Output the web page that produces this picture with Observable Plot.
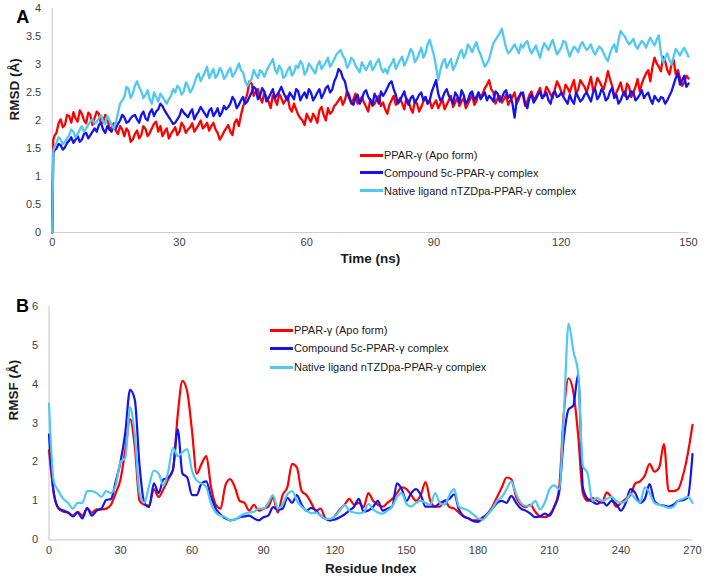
<!DOCTYPE html>
<html><head><meta charset="utf-8">
<script src="https://cdn.jsdelivr.net/npm/d3@7"></script>
<script src="https://cdn.jsdelivr.net/npm/@observablehq/plot@0.6"></script>
<style>
body{margin:0;background:#fff;}
#wrap{position:relative;width:708px;height:578px;font-family:"Liberation Sans",Arial,sans-serif;overflow:hidden;}
.panel{position:absolute;left:0;}
.legend{position:absolute;font-size:11px;color:#1a1a1a;font-family:"Liberation Sans",Arial,sans-serif;}
.legend .item{position:absolute;left:0;white-space:nowrap;display:flex;align-items:center;height:14px;}
.legend .sw{display:inline-block;width:23px;height:3px;margin-right:1px;}
</style></head>
<body><div id="wrap"></div>
<script>
// ---------- Series names & colours ----------
const seriesNames = ["PPAR-γ (Apo form)", "Compound 5c-PPAR-γ complex", "Native ligand nTZDpa-PPAR-γ complex"];
const seriesColors = ["#ff0000", "#1414f0", "#4fc8f4"];

// ---------- Panel A: RMSD vs time (0.5 ns sampling) ----------
const timeNs = [0, 0.25, ...d3.range(1, 301).map(i => i / 2)];
const apoRMSD = [0, 1.65,
 1.72, 1.78, 1.95, 2.02, 1.88, 1.92, 2.1, 2.08, 1.96, 2.15,
 2.04, 1.98, 2.18, 2.12, 2.0, 1.95, 2.14, 2.1, 1.92, 2.05,
 2.16, 2.12, 1.94, 1.98, 2.1, 2.06, 1.84, 1.88, 1.95, 1.82,
 1.76, 1.9, 1.84, 1.72, 1.86, 1.8, 1.62, 1.66, 1.76, 1.82,
 1.68, 1.74, 1.9, 1.85, 1.72, 1.78, 1.86, 1.94, 1.98, 1.8,
 1.9, 1.72, 1.8, 1.86, 1.68, 1.76, 1.82, 1.88, 1.74, 1.8,
 1.96, 1.9, 1.78, 1.84, 1.88, 1.95, 1.8, 1.86, 1.92, 2.0,
 1.86, 1.9, 1.96, 1.82, 1.9, 1.96, 1.84, 1.78, 1.66, 1.72,
 1.8, 1.86, 1.92, 1.8, 1.74, 1.96, 2.02, 1.9, 2.1, 2.25,
 2.36, 2.48, 2.7, 2.66, 2.44, 2.52, 2.56, 2.4, 2.32, 2.5,
 2.42, 2.34, 2.22, 2.45, 2.38, 2.28, 2.48, 2.4, 2.3, 2.36,
 2.44, 2.22, 2.16, 2.3, 2.2, 2.1, 2.04, 2.0, 1.92, 2.12,
 2.04, 1.98, 2.12, 2.06, 1.96, 2.18, 2.24, 2.1, 2.0, 2.22,
 2.12, 2.16, 2.26, 2.3, 2.36, 2.42, 2.28, 2.36, 2.52, 2.46,
 2.3, 2.38, 2.48, 2.3, 2.36, 2.42, 2.32, 2.24, 2.16, 2.38,
 2.26, 2.3, 2.38, 2.44, 2.26, 2.32, 2.2, 2.12, 2.28, 2.36,
 2.44, 2.28, 2.32, 2.4, 2.3, 2.2, 2.4, 2.34, 2.22, 2.14,
 2.36, 2.3, 2.16, 2.24, 2.34, 2.42, 2.3, 2.36, 2.22, 2.3,
 2.36, 2.22, 2.3, 2.38, 2.2, 2.28, 2.36, 2.44, 2.24, 2.32,
 2.4, 2.26, 2.34, 2.4, 2.22, 2.3, 2.38, 2.46, 2.28, 2.34,
 2.5, 2.42, 2.48, 2.58, 2.64, 2.72, 2.56, 2.5, 2.3, 2.4,
 2.44, 2.32, 2.38, 2.46, 2.28, 2.36, 2.42, 2.5, 2.3, 2.38,
 2.5, 2.44, 2.26, 2.34, 2.46, 2.52, 2.36, 2.42, 2.5, 2.58,
 2.4, 2.46, 2.6, 2.54, 2.46, 2.4, 2.56, 2.7, 2.62, 2.52,
 2.44, 2.64, 2.58, 2.5, 2.62, 2.72, 2.48, 2.56, 2.72, 2.66,
 2.6, 2.5, 2.64, 2.78, 2.54, 2.6, 2.76, 2.7, 2.62, 2.56,
 2.7, 2.88, 2.74, 2.62, 2.44, 2.5, 2.58, 2.68, 2.52, 2.44,
 2.66, 2.6, 2.42, 2.5, 2.6, 2.74, 2.52, 2.66, 2.76, 2.84,
 2.9, 2.7, 2.96, 3.12, 3.02, 2.96, 2.88, 3.14, 3.06, 2.9,
 2.82, 3.0, 3.08, 2.82, 2.9, 2.76, 2.62, 2.68, 2.8, 2.75];
const cpd5cRMSD = [0, 1.42,
 1.46, 1.5, 1.58, 1.56, 1.48, 1.52, 1.6, 1.64, 1.7, 1.6,
 1.66, 1.72, 1.62, 1.66, 1.76, 1.78, 1.68, 1.74, 1.8, 1.86,
 1.8, 1.92, 1.96, 1.84, 1.78, 1.9, 1.84, 1.8, 1.9, 1.86,
 1.94, 2.0, 2.1, 2.06, 1.96, 1.98, 2.04, 2.08, 2.1, 2.02,
 1.96, 2.1, 2.16, 2.04, 2.0, 2.14, 2.2, 2.08, 2.16, 2.2,
 2.3, 2.26, 2.18, 2.12, 2.06, 2.0, 1.94, 1.96, 2.02, 2.08,
 2.2, 2.14, 2.1, 2.06, 2.14, 2.2, 2.02, 2.1, 2.16, 2.24,
 2.18, 2.12, 2.06, 2.18, 2.22, 2.08, 2.14, 2.22, 2.08, 2.14,
 2.26, 2.2, 2.24, 2.3, 2.42, 2.36, 2.22, 2.28, 2.36, 2.42,
 2.3, 2.34, 2.42, 2.5, 2.6, 2.56, 2.38, 2.44, 2.58, 2.52,
 2.34, 2.4, 2.48, 2.56, 2.4, 2.46, 2.52, 2.6, 2.5, 2.42,
 2.36, 2.5, 2.44, 2.38, 2.56, 2.52, 2.36, 2.44, 2.5, 2.4,
 2.56, 2.5, 2.36, 2.42, 2.5, 2.56, 2.4, 2.48, 2.58, 2.62,
 2.5, 2.55, 2.7, 2.78, 2.92, 2.88, 2.76, 2.7, 2.52, 2.4,
 2.32, 2.28, 2.4, 2.46, 2.3, 2.38, 2.5, 2.54, 2.42, 2.36,
 2.28, 2.48, 2.4, 2.3, 2.52, 2.44, 2.5, 2.58, 2.66, 2.7,
 2.56, 2.46, 2.3, 2.36, 2.44, 2.52, 2.36, 2.28, 2.4, 2.44,
 2.32, 2.38, 2.46, 2.5, 2.36, 2.42, 2.3, 2.36, 2.52, 2.62,
 2.72, 2.48, 2.36, 2.4, 2.5, 2.56, 2.44, 2.38, 2.3, 2.5,
 2.44, 2.32, 2.54, 2.46, 2.3, 2.36, 2.48, 2.52, 2.36, 2.42,
 2.5, 2.38, 2.44, 2.5, 2.36, 2.44, 2.4, 2.34, 2.52, 2.48,
 2.34, 2.4, 2.5, 2.54, 2.4, 2.46, 2.3, 2.05, 2.36, 2.42,
 2.48, 2.5, 2.3, 2.22, 2.4, 2.46, 2.32, 2.38, 2.46, 2.52,
 2.4, 2.44, 2.5, 2.36, 2.3, 2.48, 2.52, 2.42, 2.44, 2.5,
 2.42, 2.36, 2.3, 2.46, 2.36, 2.3, 2.5, 2.42, 2.34, 2.38,
 2.46, 2.5, 2.42, 2.34, 2.5, 2.56, 2.38, 2.44, 2.56, 2.5,
 2.36, 2.4, 2.52, 2.58, 2.4, 2.46, 2.3, 2.36, 2.46, 2.52,
 2.38, 2.44, 2.52, 2.5, 2.36, 2.4, 2.46, 2.54, 2.4, 2.46,
 2.5, 2.38, 2.3, 2.44, 2.38, 2.34, 2.42, 2.4, 2.3, 2.36,
 2.44, 2.52, 2.64, 2.76, 2.84, 2.64, 2.72, 2.8, 2.6, 2.66];
const nativeRMSD = [0, 1.45,
 1.52, 1.6, 1.7, 1.66, 1.58, 1.62, 1.68, 1.74, 1.84, 1.8,
 1.7, 1.76, 1.84, 1.9, 1.8, 1.86, 1.92, 1.98, 2.02, 1.94,
 1.98, 2.04, 2.1, 1.98, 1.94, 2.08, 2.0, 1.92, 1.86, 1.96,
 2.14, 2.3, 2.36, 2.42, 2.6, 2.56, 2.4, 2.48, 2.62, 2.7,
 2.6, 2.52, 2.4, 2.46, 2.54, 2.38, 2.3, 2.5, 2.42, 2.34,
 2.48, 2.42, 2.36, 2.3, 2.38, 2.44, 2.56, 2.5, 2.62, 2.58,
 2.46, 2.52, 2.68, 2.62, 2.5, 2.56, 2.66, 2.78, 2.84, 2.7,
 2.78, 2.86, 2.96, 2.76, 2.84, 2.92, 2.76, 2.82, 2.94, 2.88,
 2.74, 2.8, 2.88, 2.94, 2.78, 2.84, 2.92, 3.02, 2.9, 2.86,
 2.7, 2.62, 2.68, 2.74, 2.9, 2.82, 2.76, 2.9, 2.86, 2.78,
 2.88, 2.96, 3.02, 3.1, 2.92, 2.84, 2.98, 2.92, 2.76, 2.8,
 2.9, 2.96, 2.8, 2.86, 2.98, 2.94, 3.06, 3.0, 2.82, 2.88,
 3.02, 2.96, 2.9, 2.84, 2.98, 3.06, 2.92, 2.98, 3.04, 3.12,
 2.96, 3.02, 3.1, 3.18, 3.22, 3.26, 3.16, 3.1, 2.94, 3.0,
 3.12, 3.08, 2.98, 2.92, 2.86, 3.04, 2.96, 2.9, 2.98, 3.06,
 2.9, 2.96, 3.04, 3.1, 2.94, 2.86, 2.92, 2.84, 2.96, 3.02,
 3.1, 2.92, 3.0, 3.08, 3.14, 2.98, 3.06, 3.16, 3.28, 3.22,
 3.04, 3.1, 3.2, 3.3, 3.12, 3.2, 3.36, 3.44, 3.3, 3.16,
 2.96, 2.72, 2.9, 3.04, 3.1, 2.94, 3.02, 3.1, 2.9, 2.98,
 3.08, 3.2, 3.26, 3.12, 3.2, 3.36, 3.3, 3.22, 3.32, 3.4,
 3.26, 3.18, 3.06, 2.96, 3.02, 3.1, 3.24, 3.38, 3.44, 3.5,
 3.56, 3.64, 3.46, 3.3, 3.2, 3.24, 3.3, 3.36, 3.28, 3.2,
 3.36, 3.3, 3.38, 3.42, 3.28, 3.2, 3.26, 3.34, 3.22, 3.12,
 3.28, 3.38, 3.32, 3.26, 3.36, 3.44, 3.3, 3.18, 3.24, 3.3,
 3.42, 3.4, 3.26, 3.14, 3.24, 3.32, 3.28, 3.22, 3.34, 3.4,
 3.32, 3.26, 3.3, 3.36, 3.24, 3.18, 3.26, 3.32, 3.28, 3.2,
 3.12, 3.06, 3.2, 3.3, 3.36, 3.22, 3.44, 3.6, 3.54, 3.5,
 3.42, 3.36, 3.4, 3.46, 3.34, 3.28, 3.36, 3.42, 3.38, 3.3,
 3.4, 3.48, 3.4, 3.34, 3.44, 3.52, 3.2, 3.04, 3.12, 3.2,
 3.08, 3.0, 3.14, 3.28, 3.22, 3.16, 3.24, 3.3, 3.22, 3.14];
const timeTicks = [0, 30, 60, 90, 120, 150];
const rmsdTicks = [0, 0.5, 1, 1.5, 2, 2.5, 3, 3.5, 4];

// ---------- Panel B: RMSF vs residue ----------
const residueIdx = d3.range(0, 271, 2);
const apoRMSF = [
 2.3, 1.2, 0.8, 0.72, 0.7, 0.62, 0.72, 0.62, 0.8, 0.7,
 0.78, 0.78, 0.8, 0.9, 1.2, 1.55, 2.3, 3.1, 2.4, 1.0,
 0.9, 0.88, 1.3, 1.1, 1.3, 1.55, 1.8, 3.2, 4.08, 3.8,
 2.8, 1.7, 1.95, 2.15, 1.35, 0.9, 0.8, 1.4, 1.56, 1.35,
 1.0, 0.95, 0.75, 0.9, 0.75, 0.8, 0.85, 1.08, 0.7, 1.15,
 1.35, 1.95, 1.86, 1.25, 1.15, 0.95, 0.75, 0.8, 0.55, 0.5,
 0.62, 0.78, 0.9, 1.05, 0.9, 0.95, 0.84, 1.2, 1.0, 0.9,
 0.85, 0.95, 1.05, 1.2, 1.35, 1.3, 1.15, 1.0, 1.15, 1.48,
 1.0, 0.85, 0.85, 1.0, 0.84, 0.8, 0.7, 0.6, 0.55, 0.5,
 0.5, 0.58, 0.67, 0.85, 1.1, 1.35, 1.6, 1.55, 1.1, 0.9,
 0.84, 0.9, 0.72, 0.6, 0.58, 0.65, 0.85, 1.3, 3.25, 4.15,
 3.8, 2.7, 1.2, 1.0, 1.08, 1.0, 0.95, 1.22, 1.08, 0.85,
 0.95, 1.05, 1.15, 1.45, 1.5, 1.65, 1.95, 1.75, 1.85, 2.46,
 1.25, 1.25, 1.3, 1.65, 2.2, 2.95];
const cpd5cRMSF = [
 2.7, 1.2, 0.82, 0.75, 0.7, 0.6, 0.7, 0.55, 0.82, 0.62,
 0.75, 0.8, 1.02, 1.05, 1.5, 2.0, 2.75, 3.85, 3.6, 1.9,
 0.95, 0.84, 1.45, 1.2, 1.55, 1.6, 1.8, 2.84, 1.7, 1.6,
 1.15, 1.15, 1.45, 1.5, 1.1, 0.8, 0.65, 0.55, 0.5, 0.52,
 0.58, 0.6, 0.62, 0.55, 0.5, 0.58, 0.62, 0.84, 0.78, 0.8,
 1.08, 0.95, 1.15, 0.9, 0.75, 0.82, 0.75, 0.62, 0.54, 0.5,
 0.52, 0.58, 0.65, 0.75, 0.85, 1.05, 0.72, 0.75, 0.85, 1.0,
 0.75, 0.8, 0.85, 1.45, 1.3, 1.0, 1.2, 1.3, 1.15, 0.85,
 0.85, 0.85, 0.95, 1.0, 1.05, 1.17, 0.78, 0.6, 0.55, 0.48,
 0.46, 0.55, 0.67, 0.8, 0.95, 1.0, 0.95, 1.13, 0.95, 0.8,
 0.75, 0.67, 0.58, 0.6, 0.67, 0.62, 0.85, 1.2, 2.6, 3.35,
 3.45, 4.25, 1.35, 1.05, 0.98, 0.92, 1.0, 0.88, 1.0, 0.92,
 0.75, 0.95, 1.3, 1.2, 0.95, 1.05, 1.43, 1.0, 0.9, 0.88,
 0.85, 0.9, 1.0, 1.02, 1.08, 2.2];
const nativeRMSF = [
 3.5, 1.5, 1.25, 1.05, 0.95, 0.8, 0.95, 0.95, 1.25, 1.25,
 1.2, 1.1, 1.25, 1.2, 1.4, 2.0, 2.1, 3.4, 2.7, 1.2,
 0.95, 1.4, 1.78, 1.7, 1.4, 1.75, 2.36, 2.15, 2.25, 2.33,
 1.78, 1.52, 1.45, 1.35, 0.92, 0.7, 0.62, 0.58, 0.5, 0.52,
 0.6, 0.67, 0.7, 0.72, 0.8, 0.8, 0.95, 1.15, 0.8, 0.9,
 1.17, 1.25, 1.0, 0.85, 0.75, 0.68, 0.7, 0.62, 0.54, 0.54,
 0.6, 0.75, 0.9, 0.75, 0.7, 0.68, 0.7, 0.92, 0.78, 0.7,
 0.67, 0.75, 0.85, 1.1, 1.2, 0.92, 0.85, 0.95, 1.0, 0.95,
 0.9, 1.2, 0.95, 0.9, 1.15, 1.3, 0.85, 0.8, 0.75, 0.65,
 0.55, 0.52, 0.65, 0.8, 1.0, 1.1, 1.3, 1.5, 1.18, 0.95,
 0.87, 0.88, 1.0, 0.78, 0.95, 1.3, 1.4, 1.3, 3.2, 5.55,
 4.85, 4.3, 1.9, 1.7, 1.0, 1.08, 1.0, 1.05, 1.1, 1.0,
 0.95, 1.0, 1.18, 1.05, 0.95, 1.35, 1.2, 0.95, 0.9, 0.86,
 0.82, 0.85, 1.0, 1.05, 1.1, 0.95];
const residueTicks = [0, 30, 60, 90, 120, 150, 180, 210, 240, 270];
const rmsfTicks = [0, 1, 2, 3, 4, 5, 6];

// ---------- Drawing ----------
const FONT = "Liberation Sans, Arial, sans-serif";
const AXIS = "#cfcfcf";
const TITLE = "#1a1a1a";
const fmt = d => String(d);

function panel({x, xDomain, yDomain, xTicks, yTicks, series, curve, lineWidth, width, height, margins, yTitle, xTitle, letter, letterDx, letterDy, yTitleDx, yTitleDy, xTitleDy}) {
  return Plot.plot({
    width, height, ...margins,
    style: {fontFamily: FONT, fontSize: "11px", color: "#404040", background: "transparent", overflow: "visible"},
    x: {domain: xDomain}, y: {domain: yDomain},
    marks: [
      Plot.ruleX([xDomain[0]], {stroke: AXIS, strokeWidth: 1.2}),
      Plot.ruleY([yDomain[0]], {stroke: AXIS, strokeWidth: 1.2}),
      Plot.axisX({ticks: xTicks, tickSize: 0, tickPadding: 6, label: null, tickFormat: fmt}),
      Plot.axisY({ticks: yTicks, tickSize: 0, tickPadding: 11, label: null, tickFormat: fmt}),
      ...series.map((s, i) => Plot.line(x, {x, y: s, stroke: seriesColors[i], strokeWidth: lineWidth, curve})),
      Plot.text([yTitle], {text: d => d, frameAnchor: "left", dx: yTitleDx, dy: yTitleDy, rotate: -90, fontWeight: "bold", fontSize: 13.5, fill: TITLE}),
      Plot.text([xTitle], {text: d => d, frameAnchor: "bottom", dy: xTitleDy, fontWeight: "bold", fontSize: 13.5, fill: TITLE}),
      Plot.text([letter], {text: d => d, frameAnchor: "top-left", dx: letterDx, dy: letterDy, fontWeight: "bold", fontSize: 18, fill: "#000"})
    ]
  });
}

const wrap = document.getElementById("wrap");

const plotA = panel({
  x: timeNs, xDomain: [0, 150], yDomain: [0, 4], xTicks: timeTicks, yTicks: rmsdTicks,
  series: [apoRMSD, cpd5cRMSD, nativeRMSD], curve: "linear", lineWidth: 2.3,
  width: 708, height: 280,
  margins: {marginLeft: 51.7, marginRight: 20, marginTop: 8, marginBottom: 48},
  yTitle: "RMSD (Å)", xTitle: "Time (ns)", letter: "A",
  letterDx: -36, letterDy: 2, yTitleDx: -38, yTitleDy: 0, xTitleDy: 30
});
const divA = document.createElement("div");
divA.className = "panel"; divA.style.top = "0px";
divA.appendChild(plotA); wrap.appendChild(divA);

const plotB = panel({
  x: residueIdx, xDomain: [0, 270], yDomain: [0, 6], xTicks: residueTicks, yTicks: rmsfTicks,
  series: [apoRMSF, cpd5cRMSF, nativeRMSF], curve: "monotone-x", lineWidth: 2.2,
  width: 708, height: 298,
  margins: {marginLeft: 48.5, marginRight: 16, marginTop: 25.7, marginBottom: 38.7},
  yTitle: "RMSF (Å)", xTitle: "Residue Index", letter: "B",
  letterDx: -33, letterDy: -7, yTitleDx: -35, yTitleDy: -2.5, xTitleDy: 33
});
const divB = document.createElement("div");
divB.className = "panel"; divB.style.top = "280px";
divB.appendChild(plotB); wrap.appendChild(divB);

function legend(left, tops) {
  const lg = document.createElement("div");
  lg.className = "legend";
  lg.style.left = left + "px"; lg.style.top = "0px";
  seriesNames.forEach((name, i) => {
    const it = document.createElement("div");
    it.className = "item";
    it.style.top = (tops[i] - 7) + "px";
    const sw = document.createElement("span");
    sw.className = "sw"; sw.style.background = seriesColors[i];
    it.appendChild(sw);
    it.appendChild(document.createTextNode(name));
    lg.appendChild(it);
  });
  wrap.appendChild(lg);
}
legend(360, [155, 172.7, 190.7]);
legend(270, [330, 348.3, 367.3]);
</script>
</body></html>
